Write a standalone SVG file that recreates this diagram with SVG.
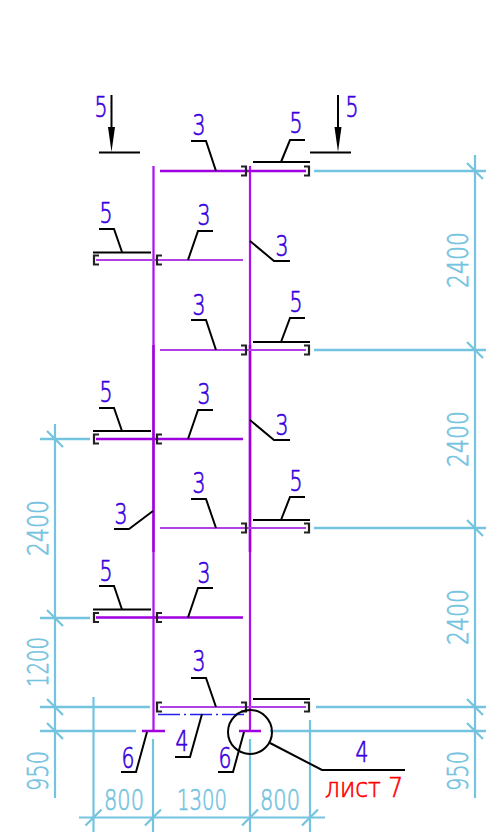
<svg xmlns="http://www.w3.org/2000/svg" width="486" height="840" viewBox="0 0 486 840">
<style>
text{font-family:"DejaVu Sans","Liberation Sans",sans-serif;font-weight:200;text-anchor:middle;stroke-width:.7}
.n{font-size:28px;fill:#3a00e0;stroke:#3a00e0}
.d{font-size:29px;fill:#74c3df;stroke:#74c3df}
.r{font-size:27px;fill:#ff0000;stroke:#ff0000}
.b{fill:none;stroke:#000;stroke-width:2}
.br{fill:none;stroke:#222;stroke-width:2.2}
.dm{fill:none;stroke:#74c3df;stroke-width:2.2}
.dt{fill:none;stroke:#74c3df;stroke-width:2.6}
.m1{fill:none;stroke:#a000e0;stroke-width:2.7}
.m2{fill:none;stroke:#b040e6;stroke-width:2.2}
.m3{fill:none;stroke:#b010ee;stroke-width:2.2}
</style>
<g id="dimensions">
<path class="dm" d="M475 155V798M55 424V798M79 817.5H325M93.5 697V832M153 739V832M250 739V832M310 720V832"/>
<path class="dt" d="M314 171H486M314 350H486M314 528H486M316 707H486M270 731H486M40 439H90M40 618H90M40 707H150M40 731H136"/>
<path class="dm" d="M467 163l16 16M467 342l16 16M467 520l16 16M467 699l16 16M467 723l16 16M47 431l16 16M47 610l16 16M47 699l16 16M47 723l16 16M85.500 825.500l16 -16M145 825.500l16 -16M242 825.500l16 -16M302 825.500l16 -16"/>
<text class="d" transform="translate(468,260) rotate(-90)" textLength="56" lengthAdjust="spacingAndGlyphs">2400</text>
<text class="d" transform="translate(468,439) rotate(-90)" textLength="56" lengthAdjust="spacingAndGlyphs">2400</text>
<text class="d" transform="translate(468,617) rotate(-90)" textLength="56" lengthAdjust="spacingAndGlyphs">2400</text>
<text class="d" transform="translate(468,771) rotate(-90)" textLength="40" lengthAdjust="spacingAndGlyphs">950</text>
<text class="d" transform="translate(48,528) rotate(-90)" textLength="56" lengthAdjust="spacingAndGlyphs">2400</text>
<text class="d" transform="translate(48,662) rotate(-90)" textLength="50" lengthAdjust="spacingAndGlyphs">1200</text>
<text class="d" transform="translate(48,771) rotate(-90)" textLength="40" lengthAdjust="spacingAndGlyphs">950</text>
<text class="d" x="124" y="810" textLength="40" lengthAdjust="spacingAndGlyphs">800</text>
<text class="d" x="202" y="810" textLength="50" lengthAdjust="spacingAndGlyphs">1300</text>
<text class="d" x="280" y="810" textLength="40" lengthAdjust="spacingAndGlyphs">800</text>
</g>
<g id="frame">
<path class="m3" d="M153.500 166V345M153.500 552V731M250 166V345M250 552V731"/>
<path class="m1" d="M153.500 345V552M250 345V552"/>
<path class="m1" d="M160 171H306M96 439H243M96 617.500H243M142 731H165M239 731H261"/>
<path class="m2" d="M96 260H243M160 350H306M160 528H306M160 707H306"/>
<path d="M158 714.500H247" fill="none" stroke="#2020f0" stroke-width="1.500" stroke-dasharray="22 4 2 4"/>
</g>
<g id="brackets">
<path class="br" d="M241 166.500h5v9h-5M304 166.500h5v9h-5M99 255.500h-5v9h5M162 255.500h-5v9h5M241 345.500h5v9h-5M304 345.500h5v9h-5M99 434.500h-5v9h5M162 434.500h-5v9h5M241 523.500h5v9h-5M304 523.500h5v9h-5M99 613h-5v9h5M162 613h-5v9h5M241 702.500h5v9h-5M304 702.500h5v9h-5M162 702.500h-5v9h5"/>
</g>
<g id="leaders">
<path class="b" d="M93 252.500H151M253 162H310M253 342H310M93 431H151M253 520H310M93 609.500H151M253 699H310"/>
<path class="b" d="M216 171L206 141H191M281 162L290 140H305M122 252L114 229H99M188 260L198 231H213M250 241L274 261H290"/>
<path class="b" d="M216 350L206 320H191M281 342L290 318H305M122 431L114 408H99M188 439L198 410H213M250 420L274 440H290"/>
<path class="b" d="M216 528L206 499H191M281 520L290 497H305M153 511L129 529H114M122 609.500L114 586H99M188 617.500L198 588H213"/>
<path class="b" d="M216 707L206 678H191M202 714L190 757H175M147 732L136 772H121M244 732L233 772H218M270 743L322 770H405"/>
<circle class="b" cx="250" cy="732" r="22"/>
</g>
<g id="section-left">
<path class="b" d="M111.500 95V130M99 152.500H140"/>
<path d="M108 127H115L111.500 152Z" fill="#000"/>
</g>
<g id="section-right">
<path class="b" d="M338 95V130M310 152.500H351"/>
<path d="M334.500 127H341.500L338 152Z" fill="#000"/>
</g>
<g id="labels">
<text class="n" x="101" y="117" textLength="13" lengthAdjust="spacingAndGlyphs">5</text>
<text class="n" x="352" y="117" textLength="13" lengthAdjust="spacingAndGlyphs">5</text>
<text class="n" x="199" y="135" textLength="13" lengthAdjust="spacingAndGlyphs">3</text>
<text class="n" x="296" y="133" textLength="13" lengthAdjust="spacingAndGlyphs">5</text>
<text class="n" x="106" y="223" textLength="13" lengthAdjust="spacingAndGlyphs">5</text>
<text class="n" x="204" y="225" textLength="13" lengthAdjust="spacingAndGlyphs">3</text>
<text class="n" x="282" y="256" textLength="13" lengthAdjust="spacingAndGlyphs">3</text>
<text class="n" x="199" y="315" textLength="13" lengthAdjust="spacingAndGlyphs">3</text>
<text class="n" x="296" y="312" textLength="13" lengthAdjust="spacingAndGlyphs">5</text>
<text class="n" x="106" y="402" textLength="13" lengthAdjust="spacingAndGlyphs">5</text>
<text class="n" x="204" y="404" textLength="13" lengthAdjust="spacingAndGlyphs">3</text>
<text class="n" x="282" y="435" textLength="13" lengthAdjust="spacingAndGlyphs">3</text>
<text class="n" x="199" y="493" textLength="13" lengthAdjust="spacingAndGlyphs">3</text>
<text class="n" x="296" y="491" textLength="13" lengthAdjust="spacingAndGlyphs">5</text>
<text class="n" x="121" y="524" textLength="13" lengthAdjust="spacingAndGlyphs">3</text>
<text class="n" x="106" y="581" textLength="13" lengthAdjust="spacingAndGlyphs">5</text>
<text class="n" x="204" y="583" textLength="13" lengthAdjust="spacingAndGlyphs">3</text>
<text class="n" x="199" y="671" textLength="13" lengthAdjust="spacingAndGlyphs">3</text>
<text class="n" x="182" y="751" textLength="13" lengthAdjust="spacingAndGlyphs">4</text>
<text class="n" x="128" y="768" textLength="13" lengthAdjust="spacingAndGlyphs">6</text>
<text class="n" x="225" y="768" textLength="13" lengthAdjust="spacingAndGlyphs">6</text>
<text class="n" x="362" y="762" textLength="13" lengthAdjust="spacingAndGlyphs">4</text>
<text class="r" x="364" y="797" textLength="78" lengthAdjust="spacingAndGlyphs">лист 7</text>
</g>
</svg>
